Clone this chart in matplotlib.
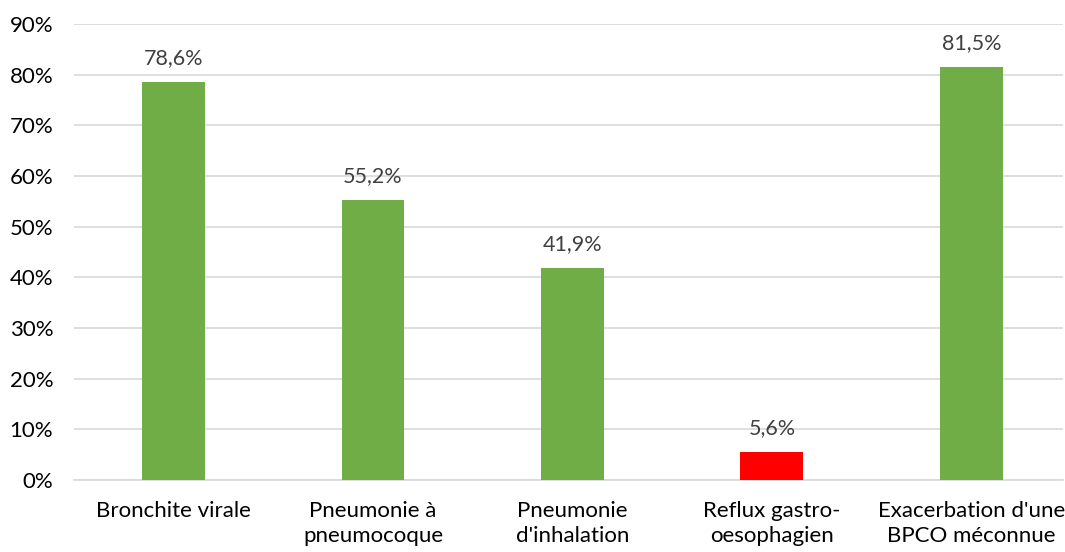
import matplotlib
matplotlib.use('Agg')
import matplotlib.pyplot as plt
import matplotlib.ticker as ticker

plt.rcParams['font.family'] = ['Lato', 'DejaVu Sans']

categories = ['Bronchite virale', 'Pneumonie à\npneumocoque', 'Pneumonie\nd\'inhalation',
              'Reflux gastro-\noesophagien', 'Exacerbation d\'une\nBPCO méconnue']
values = [78.6, 55.2, 41.9, 5.6, 81.5]
colors = ['#70ad47', '#70ad47', '#70ad47', '#ff0000', '#70ad47']

fig = plt.figure(figsize=(10.65, 5.52), dpi=100)
ax = fig.add_axes([74 / 1065, 72 / 552, 989 / 1065, 456 / 552])

x = range(len(values))
ax.bar(x, values, width=0.315, color=colors, zorder=3)
for xi, v in zip(x, values):
    ax.annotate(f"{v:.1f}%".replace('.', ','), (xi, v), xytext=(0, 10), textcoords='offset points',
                ha='center', va='bottom', fontsize=15.5, color='#404040')

ax.set_ylim(0, 90)
ax.set_xlim(-0.5, 4.46)
ax.yaxis.set_major_locator(ticker.MultipleLocator(10))
ax.yaxis.set_major_formatter(ticker.FuncFormatter(lambda v, p: f"{v:.0f}%"))
ax.grid(axis='y', color='#d9d9d9', linewidth=1.2, zorder=0)
ax.set_xticks(list(x))
ax.set_xticklabels(categories, fontsize=16, linespacing=1.3)
ax.tick_params(axis='both', length=0, labelsize=16, colors='black')
ax.tick_params(axis='x', pad=15)
ax.tick_params(axis='y', pad=15)
for s in ['top', 'right', 'left']:
    ax.spines[s].set_visible(False)
ax.spines['bottom'].set_color('#d9d9d9')
ax.spines['bottom'].set_linewidth(1.2)

fig.savefig('out.png', dpi=100)
